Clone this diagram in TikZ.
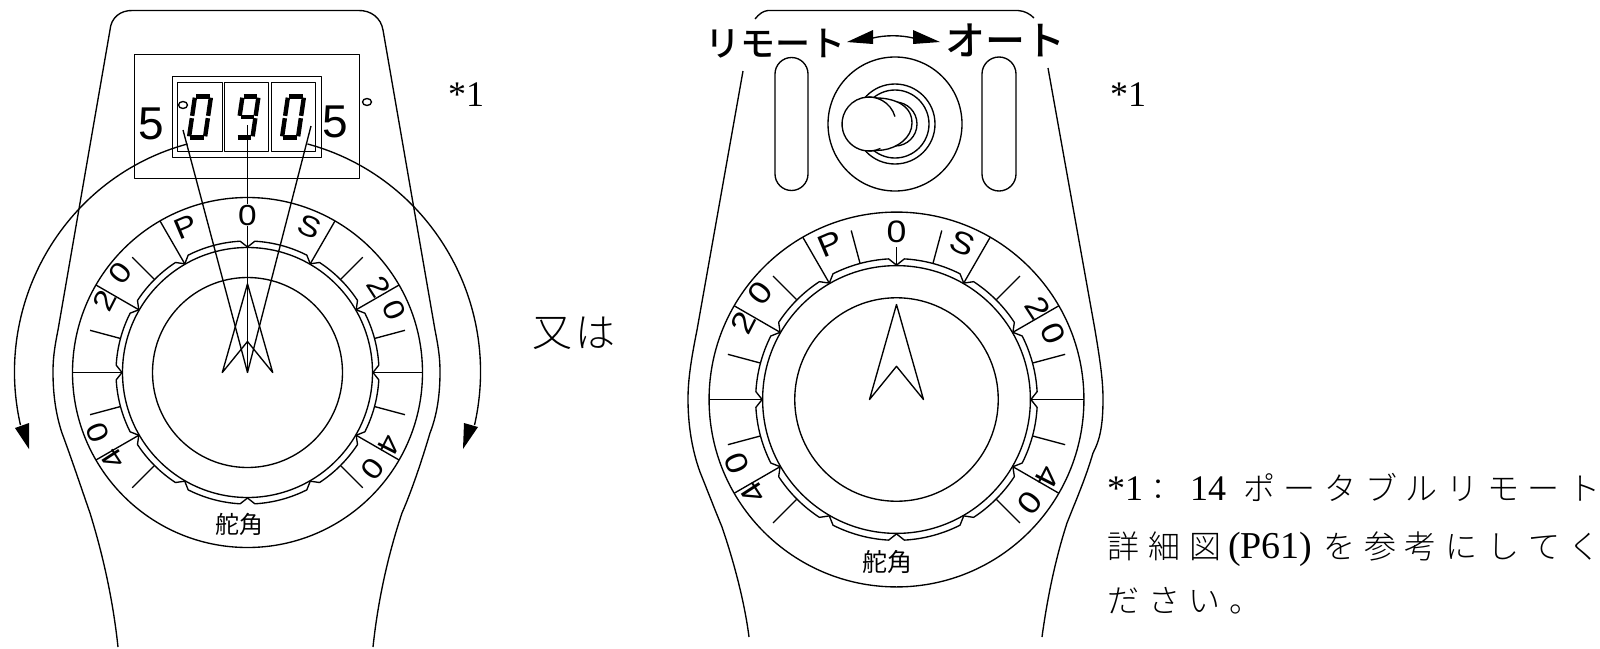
\documentclass[tikz,border=0pt]{standalone}
\usepackage{graphicx}
\usepackage{fontspec}
\setmainfont{Liberation Serif}
\newfontfamily\lsans{Liberation Sans}
\newfontfamily\cjk{Noto Sans CJK JP}
\newfontfamily\cjkmed{Noto Sans CJK JP Medium}
\newfontfamily\cjklight{Noto Sans CJK JP Light}
\newcommand{\fs}[1]{\fontsize{#1}{#1}\selectfont}
\newcommand{\cc}[2][40.7pt]{\makebox[#1][l]{#2}}
\newcommand{\wdg}[1]{\scalebox{1.15}[1]{#1}}
\tikzset{
  ln/.style={draw=black,line width=1.35pt,line join=round},
  solid black/.style={fill=black,draw=none},
  seg/.style={draw=black,line width=4.4pt,shorten >=1.2pt,shorten <=1.2pt},
  txt/.style={inner sep=0pt,outer sep=0pt,text=black},
}
% #1 prefix, #2 cx, #3 cy, #4 scale, #5 dial font size, #6 kanji font size
\newcommand{\dial}[6]{%
\begin{scope}[shift={(#2,#3)},x=#4pt,y=#4pt]
  \draw[ln] (0,0) circle[radius=175];
  \draw[ln] (0,0) circle[radius=125];
  \draw[ln] (0,0) circle[radius=95];
  \foreach \a in {0,30,...,330}{
    \pgfmathsetmacro{\aa}{\a+3.2}
    \pgfmathsetmacro{\ab}{\a+26.8}
    \pgfmathsetmacro{\ac}{\a+30}
    \draw[ln] (\a:125.5) -- (\aa:131.5) arc[start angle=\aa,end angle=\ab,radius=131.5] -- (\ac:125.5);
  }
  \foreach \t in {30,60,90,120}{
    \pgfmathsetmacro{\p}{90+\t}\pgfmathsetmacro{\q}{90-\t}
    \draw[ln] (\p:126) -- (\p:175);
    \draw[ln] (\q:126) -- (\q:175);
  }
  \foreach \t in {45,75,105,135}{
    \pgfmathsetmacro{\p}{90+\t}\pgfmathsetmacro{\q}{90-\t}
    \draw[ln] (\p:132) -- (\p:163);
    \draw[ln] (\q:132) -- (\q:163);
  }
  \draw[ln] (-25.2,0) -- (0,88.7) -- (25.2,0) -- (0,31) -- cycle;
  \node[txt,font=\lsans\fs{#5}] (#1z) at (90:157) {\wdg{0}};
  \node[txt,font=\lsans\fs{#5},rotate=23] (#1P) at (113:158) {\wdg{P}};
  \node[txt,font=\lsans\fs{#5},rotate=-23] (#1S) at (67:158) {\wdg{S}};
  \node[txt,font=\lsans\fs{#5},rotate=63] (#1la) at (153.3:160) {\wdg{2}};
  \node[txt,font=\lsans\fs{#5},rotate=52] (#1lb) at (142:161) {\wdg{0}};
  \node[txt,font=\lsans\fs{#5},rotate=-57] (#1ra) at (33:157) {\wdg{2}};
  \node[txt,font=\lsans\fs{#5},rotate=-67] (#1rb) at (23:159) {\wdg{0}};
  \node[txt,font=\lsans\fs{#5},rotate=123] (#1lc) at (213:160) {\wdg{4}};
  \node[txt,font=\lsans\fs{#5},rotate=112] (#1ld) at (201.8:161) {\wdg{0}};
  \node[txt,font=\lsans\fs{#5},rotate=-117] (#1rc) at (-27.3:159) {\wdg{4}};
  \node[txt,font=\lsans\fs{#5},rotate=-128] (#1rd) at (-37.8:158) {\wdg{0}};
  \node[txt,font=\cjk\fs{#6}] (#1k) at (-8,-152) {舵角};
\end{scope}}
\newcommand{\digitzero}[1]{%
\begin{scope}[shift={(#1,0)}]
  \draw[seg] (6,96.5) -- (22,96.5);
  \draw[seg] (6,96.5) -- (3,117);
  \draw[seg] (3,117) -- (0,137.5);
  \draw[seg] (0,137.5) -- (16,137.5);
  \draw[seg] (16,137.5) -- (19,117);
  \draw[seg] (19,117) -- (22,96.5);
\end{scope}}
\newcommand{\digitnine}[1]{%
\begin{scope}[shift={(#1,0)}]
  \draw[seg] (6,96.5) -- (22,96.5);
  \draw[seg] (6,96.5) -- (3,117);
  \draw[seg] (3,117) -- (19,117);
  \draw[seg] (0,137.5) -- (16,137.5);
  \draw[seg] (16,137.5) -- (19,117);
  \draw[seg] (19,117) -- (22,96.5);
\end{scope}}
\begin{document}
\begin{tikzpicture}[x=1pt,y=-1pt]
\useasboundingbox[fill=white] (0,0) rectangle (1600,648);
% ---------- left unit
\draw[ln] (118,647) .. controls (113,600) and (103,555) .. (90,513)
  .. controls (82,490) and (72,460) .. (62,433)
  .. controls (56,415) and (53,395) .. (53,372)
  .. controls (53,360) and (54,350) .. (58,330)
  -- (110,30) .. controls (111,18) and (120,10) .. (133,10.5)
  -- (358,10.5) .. controls (371,10) and (381,18) .. (383,30)
  -- (435,330) .. controls (439,350) and (440,360) .. (440,372)
  .. controls (440,395) and (437,415) .. (430,433)
  .. controls (422,460) and (412,490) .. (402,513)
  .. controls (388,555) and (378,600) .. (373,647);
\draw[ln] (134.5,54.5) rectangle (359.5,178.5);
\draw[ln] (172.5,76.5) rectangle (321.5,157.5);
\draw[ln] (177.5,82.5) rectangle (222.5,151.5);
\draw[ln] (224.5,82.5) rectangle (268.5,151.5);
\draw[ln] (271.5,82.5) rectangle (315.5,151.5);
\digitzero{189}\digitnine{236.5}\digitzero{282}
\draw[ln] (183,105) ellipse[x radius=4.5,y radius=3.5];
\draw[ln] (367,102) ellipse[x radius=4.5,y radius=3.5];
\node[txt,font=\lsans\fs{46}] (fiveL) at (151,124) {5};
\node[txt,font=\lsans\fs{46}] (fiveR) at (335,122) {5};
\node[txt,font=\fs{36},anchor=base west] (noteL) at (448,106) {*1};
\dial{a}{247.5}{372.5}{1}{29}{24}
\draw[ln] (183,130) -- (247.5,372.5) -- (311,126);
\draw[ln] (247.5,125) -- (247.5,204);
\draw[ln] (247.5,226) -- (247.5,372.5);
\begin{scope}[shift={(247.5,372)},y=1pt]
  \draw[ln] (104.9:233 and 236) arc[start angle=104.9,end angle=193,x radius=233,y radius=236];
  \draw[ln] (75.1:233 and 236) arc[start angle=75.1,end angle=-13,x radius=233,y radius=236];
\end{scope}
\fill[solid black] (15,428) -- (29,423) -- (29,449) -- cycle;
\fill[solid black] (464,423) -- (478,427) -- (463,449) -- cycle;
\node[txt,font=\cjklight\fs{40}] (mata) at (552,333) {又};
\node[txt,font=\cjklight\fs{40}] (wa) at (595,333) {は};
% ---------- right unit
\draw[ln] (755,19) .. controls (759,14) and (763,11) .. (768,10.5) -- (1018,10.5) .. controls (1025,11) and (1030,14) .. (1034,18);
\draw[ln] (743,71) -- (697,330) .. controls (691,360) and (688,380) .. (688,399)
  .. controls (688,425) and (692,450) .. (700,472)
  .. controls (708,492) and (715,510) .. (722,527)
  .. controls (735,565) and (745,605) .. (749,637);
\draw[ln] (1048,68) -- (1095,330) .. controls (1100,360) and (1103,380) .. (1103,399)
  .. controls (1103,425) and (1100,440) .. (1093,453)
  .. controls (1085,480) and (1076,500) .. (1067,523)
  .. controls (1055,560) and (1047,600) .. (1042,637);
\draw[ln] (775,74) arc[start angle=180,end angle=360,radius=16.5] -- (808,174) arc[start angle=0,end angle=180,radius=16.5] -- cycle;
\draw[ln] (982,74) arc[start angle=180,end angle=360,radius=17] -- (1016,174) arc[start angle=0,end angle=180,radius=17] -- cycle;
\draw[ln] (895,124) circle[radius=67];
\draw[ln] (895,124) circle[radius=40];
\draw[ln] (895,124) circle[radius=34];
\draw[ln] (895,124) circle[radius=22];
\draw[ln,fill=white] (877,98) .. controls (890,98) and (912,103) .. (912,123)
  .. controls (912,138) and (897,148) .. (883,150) -- (869,151) -- (869,97) -- cycle;
\fill[white] (869,124) circle[radius=27];
\begin{scope}[shift={(869,124)},y=1pt]
  \draw[ln] (16:27) arc[start angle=16,end angle=295,radius=27];
\end{scope}
\node[txt,font=\cjkmed\fs{35}] (remote) at (775,44) {リモート};
\node[txt,font=\cjkmed\fs{40}] (auto) at (1005,40) {オート};
\coordinate (swL) at (873,38);
\coordinate (swR) at (913,38);
\draw[ln] (swL) .. controls (885,35) and (901,35) .. (swR);
\fill[solid black] (847,42) -- (873,30) -- (873,44) -- cycle;
\fill[solid black] (940,42) -- (913,30) -- (913,44) -- cycle;
\node[txt,font=\fs{36},anchor=base west] (noteR) at (1110,106) {*1};
\dial{b}{896.5}{399.5}{1.071}{31}{25}
\draw[ln] (896.5,264) -- (896.5,247);
\foreach \q in {75,105}{
  \begin{scope}[shift={(896.5,399.5)},y=1pt]
    \draw[ln] (\q:141) -- (\q:175);
  \end{scope}
}
% ---------- note
\node[txt,font=\fs{36},anchor=base west] (line1) at (1107,500) {\cc[83pt]{*1{\cjklight\fs{30}：}}\cc[53pt]{14}{\cjklight\fs{32}\cc{ポ}\cc{ー}\cc{タ}\cc{ブ}\cc{ル}\cc{リ}\cc{モ}\cc{ー}\cc{ト}}};
\node[txt,font=\fs{38},anchor=base west] (line2) at (1107,558) {{\cjklight\fs{32}\cc[41.5pt]{詳}\cc[41.5pt]{細}\cc[38pt]{図}}\cc[95pt]{(P61)}{\cjklight\fs{32}\cc[41pt]{を}\cc[41pt]{参}\cc[41pt]{考}\cc[41pt]{に}\cc[41pt]{し}\cc[41pt]{て}\cc[41pt]{く}}};
\node[txt,font=\cjklight\fs{32},anchor=base west] (line3) at (1107,612) {\cc[41pt]{だ}\cc[41pt]{さ}\cc[41pt]{い}\cc[41pt]{。}};
\end{tikzpicture}
\end{document}
